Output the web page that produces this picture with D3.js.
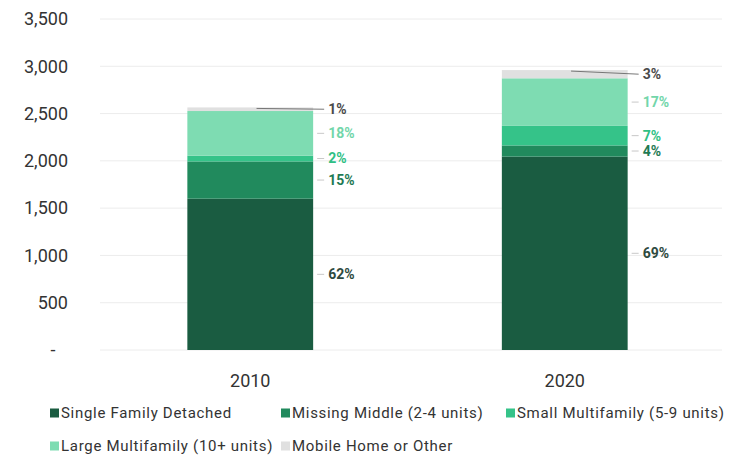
<!DOCTYPE html>
<html>
<head>
<meta charset="utf-8">
<script src="https://cdn.jsdelivr.net/npm/d3@7/dist/d3.min.js"></script>
<style>
  html, body { margin: 0; padding: 0; background: #ffffff; }
  svg { display: block; }
</style>
</head>
<body>
<svg id="chart" width="740" height="456"></svg>
<script>
// Housing units by type, 2010 vs 2020
const years = ["2010", "2020"];
const categories = [
  "Single Family Detached",
  "Missing Middle (2-4 units)",
  "Small Multifamily (5-9 units)",
  "Large Multifamily (10+ units)",
  "Mobile Home or Other"
];
const singleFamily = [1600, 2045];
const missingMiddle = [394, 118];
const smallMultifamily = [61, 207];
const largeMultifamily = [472, 503];
const mobileHome = [38, 87];
const yTicks = [0, 500, 1000, 1500, 2000, 2500, 3000, 3500];

const fills = ["#1a5c41", "#218a5d", "#35c389", "#7edcb2", "#e0e0e0"];
const labelColors = ["#2e4a40", "#1f7a54", "#2fbf84", "#72d6aa", "#4a4a4a"];

const series = [singleFamily, missingMiddle, smallMultifamily, largeMultifamily, mobileHome];
const rows = years.map((y, i) => {
  const r = { year: y };
  categories.forEach((c, k) => { r[c] = series[k][i]; });
  return r;
});

const svg = d3.select("#chart");
const x = d3.scaleBand().domain(years).range([93, 722]).paddingInner(0.6).paddingOuter(0.3);
const y = d3.scaleLinear().domain([0, 3500]).range([350, 19]);

// gridlines
svg.append("g").selectAll("line").data(yTicks).join("line")
  .attr("x1", 100).attr("x2", 722)
  .attr("y1", d => y(d)).attr("y2", d => y(d))
  .attr("stroke", "#ececec").attr("stroke-width", 1);

// y tick labels
const fmt = d3.format(",");
svg.append("g").selectAll("text").data(yTicks).join("text")
  .attr("x", d => d === 0 ? 53 : 68)
  .attr("y", d => y(d))
  .attr("dy", "0.35em")
  .attr("text-anchor", d => d === 0 ? "middle" : "end")
  .attr("font-family", "Roboto, 'Open Sans', sans-serif")
  .attr("font-size", 18)
  .attr("fill", "#333")
  .text(d => d === 0 ? "-" : fmt(d));

// stacked bars
const stacked = d3.stack().keys(categories)(rows);
svg.append("g").selectAll("g").data(stacked).join("g")
  .attr("fill", (d, i) => fills[i])
  .selectAll("rect").data(d => d).join("rect")
  .attr("x", d => x(d.data.year))
  .attr("width", x.bandwidth())
  .attr("y", d => y(d[1]))
  .attr("height", d => y(d[0]) - y(d[1]));

// year labels
svg.append("g").selectAll("text").data(years).join("text")
  .attr("x", d => x(d) + x.bandwidth() / 2)
  .attr("y", 381)
  .attr("dy", "0.35em")
  .attr("text-anchor", "middle")
  .attr("font-family", "Roboto, 'Open Sans', sans-serif")
  .attr("font-size", 18)
  .attr("fill", "#333")
  .text(d => d);

// percentage labels beside each bar
years.forEach((yr, i) => {
  const total = d3.sum(series, s => s[i]);
  const right = x(yr) + x.bandwidth();
  const labelX = right + 15;
  const items = stacked.map((layer, k) => ({
    k,
    mid: (y(layer[i][0]) + y(layer[i][1])) / 2,
    top: y(layer[i][1]),
    pct: Math.round(series[k][i] / total * 100)
  }));
  // keep labels from overlapping, working from the bottom up
  let prev = Infinity;
  items.forEach(it => {
    it.ly = Math.min(it.mid, prev - 15);
    prev = it.ly;
  });
  const g = svg.append("g");
  items.forEach(it => {
    const last = it.k === categories.length - 1;
    g.append("line")
      .attr("x1", last ? x(yr) + x.bandwidth() * 0.55 : right + 4)
      .attr("y1", last ? it.top + 1 : it.ly)
      .attr("x2", labelX - 4)
      .attr("y2", it.ly)
      .attr("stroke", last ? "#777" : "#c8c8c8")
      .attr("stroke-width", 1);
    g.append("text")
      .attr("x", labelX)
      .attr("y", it.ly)
      .attr("dy", "0.35em")
      .attr("font-family", "Roboto, 'Open Sans', sans-serif")
      .attr("font-size", 14)
      .attr("font-weight", "bold")
      .attr("fill", labelColors[it.k])
      .text(it.pct + "%");
  });
});

// legend: three columns, two rows
const legendCols = [50, 281, 506];
const legend = svg.append("g")
  .attr("font-family", "Roboto, 'Open Sans', sans-serif")
  .attr("font-size", 15)
  .attr("letter-spacing", 0.7)
  .attr("fill", "#333");
categories.forEach((c, k) => {
  const col = k % 3, row = Math.floor(k / 3);
  const lx = legendCols[col], ly = 413 + row * 33;
  legend.append("rect")
    .attr("x", lx).attr("y", ly - 4.5)
    .attr("width", 9).attr("height", 9)
    .attr("fill", fills[k]);
  legend.append("text")
    .attr("x", lx + 11).attr("y", ly)
    .attr("dy", "0.35em")
    .text(c);
});
</script>
</body>
</html>
